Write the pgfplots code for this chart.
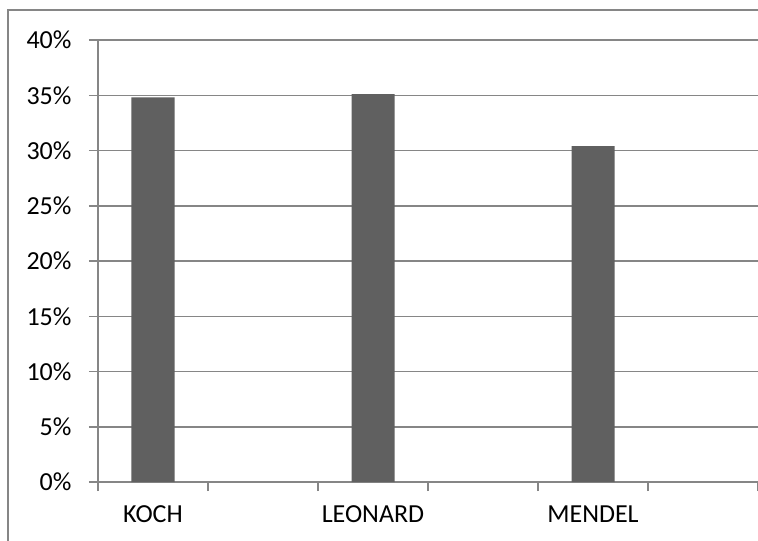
\documentclass[border=0pt]{standalone}
\usepackage{pgfplots}
\pgfplotsset{compat=1.18}
\usepackage{fontspec}
\setmainfont{Carlito}
\definecolor{gridgray}{HTML}{868686}
\definecolor{barcol}{HTML}{606060}
\begin{document}
\begin{tikzpicture}[x=1pt,y=1pt]
\useasboundingbox (0,0) rectangle (758,-541);
\draw[gridgray, line width=1.3pt] (8,-10) rectangle (900,-700);
\begin{axis}[
  at={(98pt,-482pt)}, anchor=south west,
  scale only axis, width=660pt, height=442pt,
  xmin=0, xmax=6, ymin=0, ymax=40,
  enlargelimits=false,
  axis x line*=bottom, axis y line*=left,
  axis line style={gridgray, line width=1.5pt, -},
  xtick={0,1,2,3,4,5,6},
  x tick label as interval,
  xticklabels={KOCH,,LEONARD,,MENDEL,},
  ytick={0,5,10,15,20,25,30,35,40},
  yticklabels={0\%,5\%,10\%,15\%,20\%,25\%,30\%,35\%,40\%},
  xtick pos=bottom, ytick pos=left,
  tick align=outside,
  major tick length=9pt,
  tick style={gridgray, line width=1.5pt},
  ymajorgrids,
  grid style={gridgray, line width=1.5pt},
  ticklabel style={font=\fontsize{26}{30}\selectfont, text=black},
  yticklabel style={xshift=-14pt},
  xticklabel style={yshift=-11pt},
]
\addplot[ybar, fill=barcol, draw=none, bar width=43pt] coordinates {(0.5,34.8) (2.5,35.1) (4.5,30.4)};
\end{axis}
\end{tikzpicture}
\end{document}
